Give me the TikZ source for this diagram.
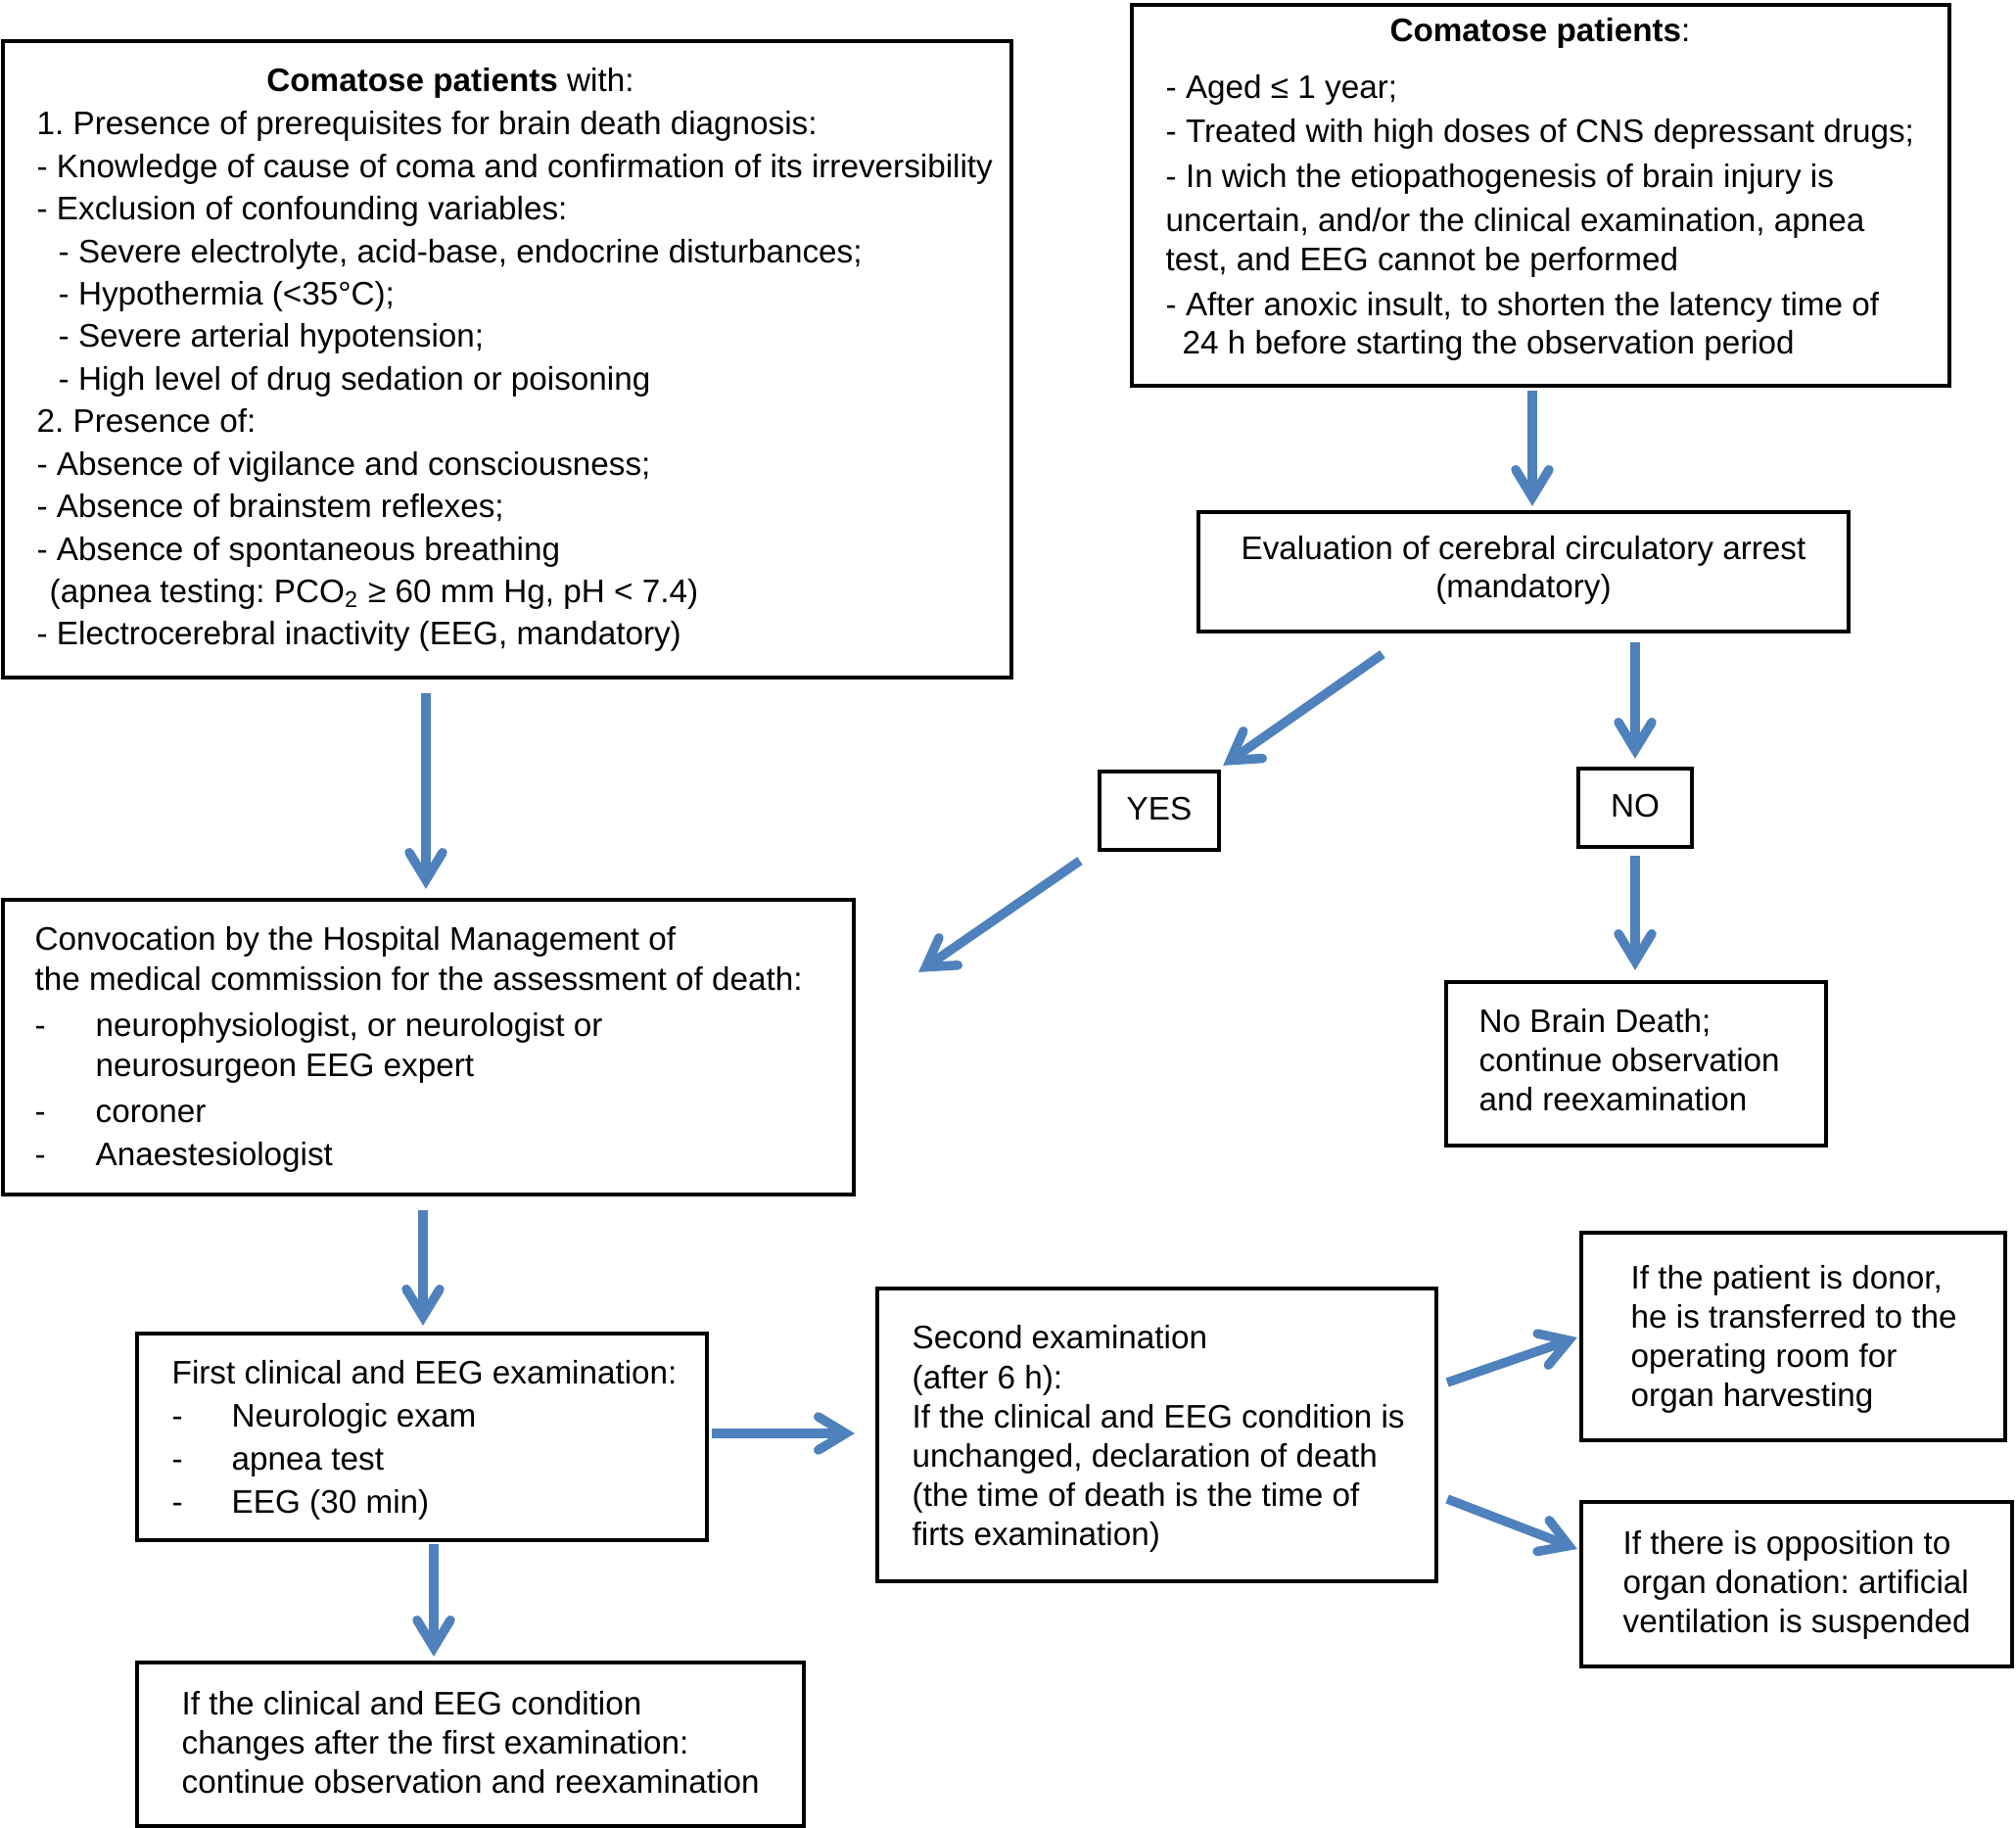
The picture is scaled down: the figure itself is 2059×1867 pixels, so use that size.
\documentclass[tikz,border=0pt]{standalone}
\usepackage{fontspec}
\setmainfont{Liberation Sans}
\usetikzlibrary{arrows.meta,calc,fit}
\definecolor{arrblue}{HTML}{4F81BD}
\frenchspacing
\begin{document}
\begin{tikzpicture}[x=0.01cm,y=-0.01cm,
  box/.style={draw, line width=1.2pt, inner sep=0pt, rectangle},
  txt/.style={inner sep=0pt, anchor=north west, align=left, font=\fontsize{9.46pt}{#1}\selectfont},
  txt/.default=11.38pt,
  ctxt/.style={inner sep=0pt, align=center, font=\fontsize{9.46pt}{#1}\selectfont},
  ctxt/.default=11.38pt,
  arr/.style={draw=arrblue, line width=2.7pt,
    -{Straight Barb[length=0.28cm,width=0.34cm,line cap=round]}}
]
\useasboundingbox (0,0) rectangle (2059,1867);

% boxes
\node[box, fit={(3,42) (1033,692)}] (A) {};
\node[box, fit={(1156,5) (1991,394)}] (B) {};
\node[box, fit={(1224,523) (1888,645)}] (C) {};
\node[box, fit={(1123,788) (1245,868)}] (Y) {};
\node[box, fit={(1612,785) (1728,865)}] (N) {};
\node[box, fit={(1477,1003) (1865,1170)}] (NBD) {};
\node[box, fit={(3,919) (872,1220)}] (CV) {};
\node[box, fit={(140,1362) (722,1573)}] (F) {};
\node[box, fit={(140,1698) (821,1865)}] (IC) {};
\node[box, fit={(896,1316) (1467,1615)}] (S) {};
\node[box, fit={(1615,1259) (2048,1471)}] (D) {};
\node[box, fit={(1615,1534) (2055,1702)}] (O) {};

% texts
\node[ctxt, anchor=base] (Atitle) at (460,94) {\textbf{Comatose patients} with:};
\node[txt=12.35pt] (Atext) at (37,113) {1. Presence of prerequisites for brain death diagnosis:\\
- Knowledge of cause of coma and confirmation of its irreversibility\\
- Exclusion of confounding variables:\\
\hspace*{0.22cm}- Severe electrolyte, acid-base, endocrine disturbances;\\
\hspace*{0.22cm}- Hypothermia (<35°C);\\
\hspace*{0.22cm}- Severe arterial hypotension;\\
\hspace*{0.22cm}- High level of drug sedation or poisoning\\
2. Presence of:\\
- Absence of vigilance and consciousness;\\
- Absence of brainstem reflexes;\\
- Absence of spontaneous breathing\\
\hspace*{0.13cm}(apnea testing: PCO\textsubscript{2} ≥ 60 mm Hg, pH < 7.4)\\
- Electrocerebral inactivity (EEG, mandatory)};

\node[ctxt, anchor=base] (Btitle) at (1573,43) {\textbf{Comatose patients}:};
\node[txt=11.24pt] (Btext) at (1190,76) {- Aged ≤ 1 year;\\[0.055cm]
- Treated with high doses of CNS depressant drugs;\\[0.065cm]
- In wich the etiopathogenesis of brain injury is\\[0.055cm]
uncertain, and/or the clinical examination, apnea\\
test, and EEG cannot be performed\\[0.065cm]
- After anoxic insult, to shorten the latency time of\\
\hspace*{0.17cm}24 h before starting the observation period};

\node[ctxt=11.1pt, anchor=north] (Ctext) at (1556,547) {Evaluation of cerebral circulatory arrest\\(mandatory)};
\node[ctxt] (Ytext) at (1184,826) {YES};
\node[ctxt] (Ntext) at (1670,823) {NO};

\node[txt] (NBDtext) at (1510,1030) {No Brain Death;\\continue observation\\and reexamination};

\node[txt=11.67pt] (CVtext) at (35,946) {Convocation by the Hospital Management of\\
the medical commission for the assessment of death:\\[0.06cm]
\makebox[0.62cm][l]{-}neurophysiologist, or neurologist or\\
\hspace*{0.62cm}neurosurgeon EEG expert\\[0.06cm]
\makebox[0.62cm][l]{-}coroner\\[0.02cm]
\makebox[0.62cm][l]{-}Anaestesiologist};

\node[txt=12.52pt] (Ftext) at (175,1389) {First clinical and EEG examination:\\
\makebox[0.61cm][l]{-}Neurologic exam\\
\makebox[0.61cm][l]{-}apnea test\\
\makebox[0.61cm][l]{-}EEG (30 min)};

\node[txt] (ICtext) at (185,1727) {If the clinical and EEG condition\\changes after the first examination:\\continue observation and reexamination};

\node[txt=11.44pt] (Stext) at (931,1353) {Second examination\\(after 6 h):\\If the clinical and EEG condition is\\unchanged, declaration of death\\(the time of death is the time of\\firts examination)};

\node[txt] (Dtext) at (1665,1292) {If the patient is donor,\\he is transferred to the\\operating room for\\organ harvesting};

\node[txt] (Otext) at (1657,1563) {If there is opposition to\\organ donation: artificial\\ventilation is suspended};

% arrows
\draw[arr] ($(B.south)+(-8.5,3)$) -- ($(C.north)+(9,-4)$);
\draw[arr] ($(A.south)+(-83,14)$) -- ($(CV.north)+(-2.5,-9)$);
\draw[arr] ($(C.south)+(-144,21)$) -- ($(Y.north east)+(2,-4)$);
\draw[arr] ($(C.south)+(114,9)$) -- ($(N.north)+(0,-8)$);
\draw[arr] ($(Y.south)+(-81,9)$) -- ($(CV.north east)+(64,76)$);
\draw[arr] ($(N.south)+(0,7)$) -- ($(NBD.north)+(-1,-10)$);
\draw[arr] ($(CV.south)+(-5.5,14)$) -- ($(F.north)+(1,-6)$);
\draw[arr] ($(F.south)+(12,2)$) -- ($(IC.north)+(-37.5,-4)$);
\draw[arr] ($(F.east)+(3,-3.5)$) -- ($(S.west)+(-21,-1.5)$);
\draw[arr] ($(S.east)+(9,-53.5)$) -- ($(D.west)+(-2,1)$);
\draw[arr] ($(S.east)+(9,65.5)$) -- ($(O.west)+(-2,-36)$);
\end{tikzpicture}
\end{document}
